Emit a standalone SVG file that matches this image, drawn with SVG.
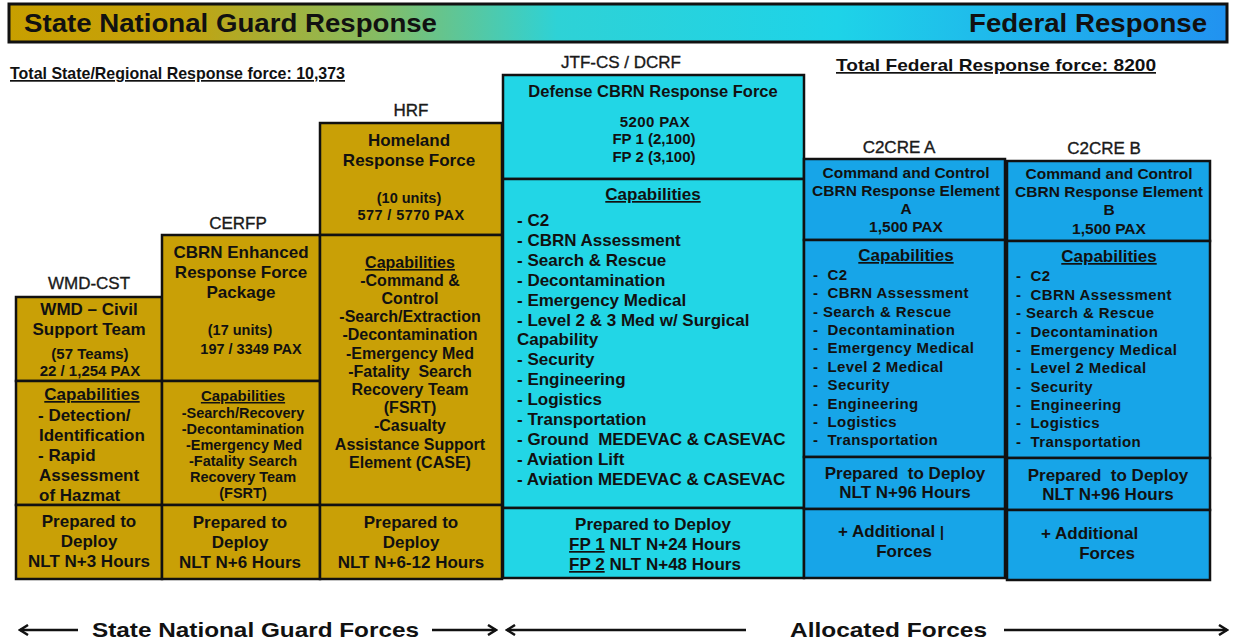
<svg xmlns="http://www.w3.org/2000/svg" width="1233" height="641" viewBox="0 0 1233 641">
<style>
text{font-family:"Liberation Sans",Arial,sans-serif;font-weight:bold;fill:#111;white-space:pre;}
.c{text-anchor:middle;}
.u{text-decoration:underline;}
.lbl{font-weight:normal;font-size:17px;text-anchor:middle;fill:#1a1a1a;stroke:#1a1a1a;stroke-width:0.35;}
.gold{fill:#C9A006;stroke:#111;stroke-width:2.5;}
.cyan{fill:#22D6E6;stroke:#111;stroke-width:2.5;}
.blue{fill:#17A5E8;stroke:#111;stroke-width:2.5;}
.f17{font-size:17px;}
.f16{font-size:16px;}
.f15{font-size:15px;}
.f14{font-size:14.5px;}
.ls{letter-spacing:0.4px;}
.arr{stroke:#111;stroke-width:2.5;fill:none;}
</style>
<defs>
<linearGradient id="bg" x1="0" y1="0" x2="1" y2="0">
<stop offset="0" stop-color="#C89F00"/>
<stop offset="0.14" stop-color="#C4A20C"/>
<stop offset="0.3" stop-color="#86BC62"/>
<stop offset="0.45" stop-color="#2ED2D6"/>
<stop offset="0.68" stop-color="#1ED3E8"/>
<stop offset="1" stop-color="#2192F0"/>
</linearGradient>
<marker id="ah" viewBox="0 0 12 12" refX="10" refY="6" markerWidth="12" markerHeight="12" markerUnits="userSpaceOnUse" orient="auto-start-reverse">
<path d="M2,1 L10,6 L2,11" fill="none" stroke="#111" stroke-width="2.5"/>
</marker>
</defs>

<g id="banner">
<rect x="9" y="4" width="1218" height="38" fill="url(#bg)" stroke="#111" stroke-width="3"/>
<text x="24" y="32" font-size="25" textLength="413" lengthAdjust="spacingAndGlyphs">State National Guard Response</text>
<text x="1207" y="32" font-size="25" text-anchor="end" textLength="238" lengthAdjust="spacingAndGlyphs">Federal Response</text>
<text x="10" y="79" font-size="17" class="u" textLength="335" lengthAdjust="spacingAndGlyphs">Total State/Regional Response force: 10,373</text>
<text x="836" y="71" font-size="17" class="u" textLength="320" lengthAdjust="spacingAndGlyphs">Total Federal Response force: 8200</text>
</g>

<g id="wmd-cst">
<text class="lbl" x="89" y="289">WMD-CST</text>
<rect class="gold" x="16" y="297" width="146" height="84"/>
<rect class="gold" x="16" y="381" width="146" height="124"/>
<rect class="gold" x="16" y="505" width="146" height="74"/>
<text class="c f17" x="89" y="315">WMD – Civil</text>
<text class="c f17" x="89" y="335">Support Team</text>
<text class="c f15" x="90" y="359">(57 Teams)</text>
<text class="c f15" x="90" y="376">22 / 1,254 PAX</text>
<text class="c f17 u" x="92" y="400">Capabilities</text>
<text class="f17" x="38" y="421">- Detection/</text>
<text class="f17" x="39" y="441">Identification</text>
<text class="f17" x="38" y="461">- Rapid</text>
<text class="f17" x="39" y="481">Assessment</text>
<text class="f17" x="39" y="501">of Hazmat</text>
<text class="c f17" x="89" y="527">Prepared to</text>
<text class="c f17" x="89" y="547">Deploy</text>
<text class="c f17" x="89" y="567">NLT N+3 Hours</text>
</g>

<g id="cerfp">
<text class="lbl" x="238" y="229">CERFP</text>
<rect class="gold" x="162" y="235" width="158" height="146"/>
<rect class="gold" x="162" y="381" width="158" height="124"/>
<rect class="gold" x="162" y="505" width="158" height="74"/>
<text class="c f17" x="241" y="258">CBRN Enhanced</text>
<text class="c f17" x="241" y="278">Response Force</text>
<text class="c f17" x="241" y="298">Package</text>
<text class="c f14" x="240" y="335">(17 units)</text>
<text class="c f14" x="251" y="354">197 / 3349 PAX</text>
<text class="c f15 u" x="243" y="401">Capabilities</text>
<text class="c f14" x="243" y="418">-Search/Recovery</text>
<text class="c f14" x="243" y="434">-Decontamination</text>
<text class="c f14" x="244" y="450">-Emergency Med</text>
<text class="c f14" x="243" y="466">-Fatality Search</text>
<text class="c f14" x="243" y="482">Recovery Team</text>
<text class="c f14" x="243" y="498">(FSRT)</text>
<text class="c f17" x="240" y="528">Prepared to</text>
<text class="c f17" x="240" y="548">Deploy</text>
<text class="c f17" x="240" y="568">NLT N+6 Hours</text>
</g>

<g id="hrf">
<text class="lbl" x="411" y="116">HRF</text>
<rect class="gold" x="320" y="123" width="182" height="112"/>
<rect class="gold" x="320" y="235" width="182" height="270"/>
<rect class="gold" x="320" y="505" width="182" height="74"/>
<text class="c f17" x="409" y="146">Homeland</text>
<text class="c f17" x="409" y="166">Response Force</text>
<text class="c f14" x="409" y="203">(10 units)</text>
<text class="c f14 ls" x="411" y="220">577 / 5770 PAX</text>
<text class="c f16 u" x="410" y="268">Capabilities</text>
<text class="c f16" x="410" y="286">-Command &amp;</text>
<text class="c f16" x="410" y="304">Control</text>
<text class="c f16" x="410" y="322">-Search/Extraction</text>
<text class="c f16" x="410" y="340">-Decontamination</text>
<text class="c f16" x="410" y="359">-Emergency Med</text>
<text class="c f16" x="410" y="377">-Fatality  Search</text>
<text class="c f16" x="410" y="395">Recovery Team</text>
<text class="c f16" x="410" y="413">(FSRT)</text>
<text class="c f16" x="410" y="431">-Casualty</text>
<text class="c f16" x="410" y="450">Assistance Support</text>
<text class="c f16" x="410" y="468">Element (CASE)</text>
<text class="c f17" x="411" y="528">Prepared to</text>
<text class="c f17" x="411" y="548">Deploy</text>
<text class="c f17" x="411" y="568">NLT N+6-12 Hours</text>
</g>

<g id="dcrf">
<text class="lbl" x="621" y="68">JTF-CS / DCRF</text>
<rect class="cyan" x="503" y="75" width="301" height="104"/>
<rect class="cyan" x="503" y="179" width="301" height="329"/>
<rect class="cyan" x="503" y="508" width="301" height="70"/>
<text class="c" font-size="16.5" x="653" y="97">Defense CBRN Response Force</text>
<text class="c f15 ls" x="655" y="127">5200 PAX</text>
<text class="c f15" x="654" y="144">FP 1 (2,100)</text>
<text class="c f15" x="654" y="162">FP 2 (3,100)</text>
<text class="c f17 u" x="653" y="200">Capabilities</text>
<text class="f17" x="517" y="226">- C2</text>
<text class="f17" x="517" y="246">- CBRN Assessment</text>
<text class="f17" x="517" y="266">- Search &amp; Rescue</text>
<text class="f17" x="517" y="286">- Decontamination</text>
<text class="f17" x="517" y="306">- Emergency Medical</text>
<text class="f17" x="517" y="326">- Level 2 &amp; 3 Med w/ Surgical</text>
<text class="f17" x="517" y="345">Capability</text>
<text class="f17" x="517" y="365">- Security</text>
<text class="f17" x="517" y="385">- Engineering</text>
<text class="f17" x="517" y="405">- Logistics</text>
<text class="f17" x="517" y="425">- Transportation</text>
<text class="f17" x="517" y="445">- Ground  MEDEVAC &amp; CASEVAC</text>
<text class="f17" x="517" y="465">- Aviation Lift</text>
<text class="f17" x="517" y="485">- Aviation MEDEVAC &amp; CASEVAC</text>
<text class="c f17" x="653" y="530">Prepared to Deploy</text>
<text class="c f17" x="655" y="550"><tspan class="u">FP 1</tspan> NLT N+24 Hours</text>
<text class="c f17" x="655" y="570"><tspan class="u">FP 2</tspan> NLT N+48 Hours</text>
</g>

<g id="c2cre-a">
<text class="lbl" x="899" y="153">C2CRE A</text>
<rect class="blue" x="804" y="159" width="201" height="81"/>
<rect class="blue" x="804" y="240" width="201" height="217"/>
<rect class="blue" x="804" y="457" width="201" height="52"/>
<rect class="blue" x="804" y="509" width="201" height="69"/>
<text class="c" font-size="15.5" x="906" y="178">Command and Control</text>
<text class="c" font-size="15.5" x="906" y="196">CBRN Response Element</text>
<text class="c" font-size="15.5" x="906" y="214">A</text>
<text class="c" font-size="15.5" x="906" y="232">1,500 PAX</text>
<text class="c f17 u" x="906" y="261">Capabilities</text>
<text class="f15 ls" x="813" y="280">-  C2</text>
<text class="f15 ls" x="813" y="298">-  CBRN Assessment</text>
<text class="f15 ls" x="813" y="317">- Search &amp; Rescue</text>
<text class="f15 ls" x="813" y="335">-  Decontamination</text>
<text class="f15 ls" x="813" y="353">-  Emergency Medical</text>
<text class="f15 ls" x="813" y="372">-  Level 2 Medical</text>
<text class="f15 ls" x="813" y="390">-  Security</text>
<text class="f15 ls" x="813" y="409">-  Engineering</text>
<text class="f15 ls" x="813" y="427">-  Logistics</text>
<text class="f15 ls" x="813" y="445">-  Transportation</text>
<text class="c f17" x="905" y="479">Prepared  to Deploy</text>
<text class="c f17" x="905" y="498">NLT N+96 Hours</text>
<text class="f17" x="838" y="537">+ Additional</text>
<text x="940" y="537" font-size="14" font-weight="normal" fill="#777">|</text>
<text class="c f17" x="904" y="557">Forces</text>
</g>

<g id="c2cre-b">
<text class="lbl" x="1104" y="154">C2CRE B</text>
<rect class="blue" x="1007" y="161" width="203" height="80"/>
<rect class="blue" x="1007" y="241" width="203" height="217"/>
<rect class="blue" x="1007" y="458" width="203" height="52"/>
<rect class="blue" x="1007" y="510" width="203" height="70"/>
<text class="c" font-size="15.5" x="1109" y="179">Command and Control</text>
<text class="c" font-size="15.5" x="1109" y="197">CBRN Response Element</text>
<text class="c" font-size="15.5" x="1109" y="215">B</text>
<text class="c" font-size="15.5" x="1109" y="234">1,500 PAX</text>
<text class="c f17 u" x="1109" y="262">Capabilities</text>
<text class="f15 ls" x="1016" y="281">-  C2</text>
<text class="f15 ls" x="1016" y="300">-  CBRN Assessment</text>
<text class="f15 ls" x="1016" y="318">- Search &amp; Rescue</text>
<text class="f15 ls" x="1016" y="337">-  Decontamination</text>
<text class="f15 ls" x="1016" y="355">-  Emergency Medical</text>
<text class="f15 ls" x="1016" y="373">-  Level 2 Medical</text>
<text class="f15 ls" x="1016" y="392">-  Security</text>
<text class="f15 ls" x="1016" y="410">-  Engineering</text>
<text class="f15 ls" x="1016" y="428">-  Logistics</text>
<text class="f15 ls" x="1016" y="447">-  Transportation</text>
<text class="c f17" x="1108" y="481">Prepared  to Deploy</text>
<text class="c f17" x="1108" y="500">NLT N+96 Hours</text>
<text class="f17" x="1041" y="539">+ Additional</text>
<text class="c f17" x="1107" y="559">Forces</text>
</g>

<g id="connectors">
<line class="arr" x1="78" y1="630" x2="20" y2="630" marker-end="url(#ah)"/>
<line class="arr" x1="432" y1="630" x2="496" y2="630" marker-end="url(#ah)"/>
<line class="arr" x1="746" y1="630" x2="507" y2="630" marker-end="url(#ah)"/>
<line class="arr" x1="1004" y1="630" x2="1227" y2="630" marker-end="url(#ah)"/>
</g>
<g id="footer">
<text x="92" y="637" font-size="21" textLength="327" lengthAdjust="spacingAndGlyphs">State National Guard Forces</text>
<text x="790" y="637" font-size="21" textLength="197" lengthAdjust="spacingAndGlyphs">Allocated Forces</text>
</g>
</svg>
